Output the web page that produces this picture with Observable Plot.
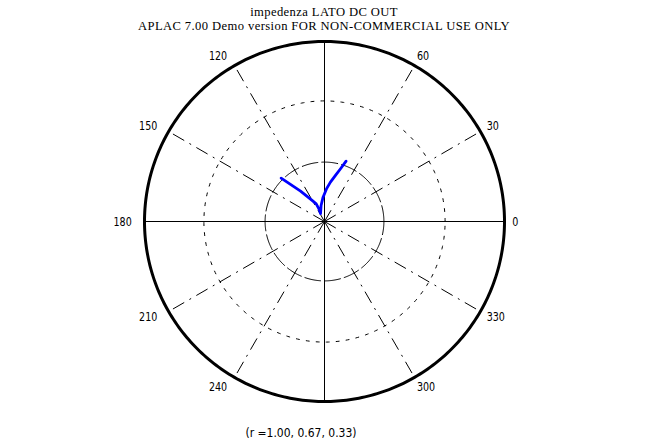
<!DOCTYPE html>
<html>
<head>
<meta charset="utf-8">
<script src="https://cdn.jsdelivr.net/npm/d3@7"></script>
<script src="https://cdn.jsdelivr.net/npm/@observablehq/plot@0.6"></script>
<style>
  html, body { margin: 0; padding: 0; background: #fff; }
  body { width: 648px; height: 448px; position: relative; overflow: hidden; }
  #title { position: absolute; left: 0; top: 4.5px; width: 648px; text-align: center;
           font-family: "Liberation Serif", "Times New Roman", serif; font-size: 12.6px; letter-spacing: 0.4px;
           line-height: 14px; color: #000; }
  #title div { white-space: nowrap; }
  #chart { position: absolute; left: 0; top: 34px; }
  #caption { position: absolute; left: 201px; width: 200px; top: 427px; text-align: center;
             font-family: "DejaVu Sans Condensed", sans-serif; font-size: 12px;
             line-height: 13px; color: #000; }
</style>
</head>
<body>
<div id="title"><div>impedenza LATO DC OUT</div><div>APLAC 7.00 Demo version FOR NON-COMMERCIAL USE ONLY</div></div>
<div id="chart"></div>
<div id="caption">(r =1.00, 0.67, 0.33)</div>
<script>
// ---- data ----
const gridRadii = [1.00, 0.67, 0.33];
const axisAngles = [0, 90, 180, 270];
const spokeAngles = [30, 60, 120, 150, 210, 240, 300, 330];
const labelAngles = [0, 30, 60, 120, 150, 180, 210, 240, 300, 330];
const labelTexts = ["0", "30", "60", "120", "150", "180", "210", "240", "300", "330"];
// impedance trace, normalized (real, imaginary)
const traceRe = [-0.241, -0.189, -0.133, -0.069, -0.046, -0.031, -0.022, -0.019, -0.008, 0.011, 0.033, 0.061, 0.089, 0.120];
const traceIm = [0.241, 0.206, 0.169, 0.117, 0.098, 0.070, 0.044, 0.089, 0.135, 0.181, 0.219, 0.256, 0.293, 0.335];

// ---- derived tables ----
const rad = d => d * Math.PI / 180;
const circle = r => d3.range(0, 361, 1).map(a => ({x: r * Math.cos(rad(a)), y: r * Math.sin(rad(a))}));
const rays = angs => angs.map(a => ({x1: 0, y1: 0, x2: Math.cos(rad(a)), y2: Math.sin(rad(a))}));
const labelR = 1.06;
const labels = labelAngles.map((a, i) => ({
  x: labelR * Math.cos(rad(a)), y: labelR * Math.sin(rad(a)), text: labelTexts[i], left: Math.cos(rad(a)) < -0.01
}));
const trace = traceRe.map((re, i) => ({re, im: traceIm[i]}));

const W = 648, H = 380, R = 180, cx = 324, cy = 187;
const labelFont = "DejaVu Sans Condensed, sans-serif";
const chart = Plot.plot({
  width: W, height: H,
  margin: 0,
  x: {domain: [-cx / R, (W - cx) / R], axis: null},
  y: {domain: [-(H - cy) / R, cy / R], axis: null},
  style: {background: "#fff", overflow: "visible"},
  marks: [
    Plot.line(circle(gridRadii[2]), {x: "x", y: "y", stroke: "#000", strokeWidth: 1, strokeDasharray: "16,4"}),
    Plot.line(circle(gridRadii[1]), {x: "x", y: "y", stroke: "#000", strokeWidth: 1, strokeDasharray: "3,7"}),
    Plot.link(rays(spokeAngles), {x1: "x1", y1: "y1", x2: "x2", y2: "y2", stroke: "#000", strokeWidth: 1, strokeDasharray: "13,6,2,6"}),
    Plot.link(rays(axisAngles), {x1: "x1", y1: "y1", x2: "x2", y2: "y2", stroke: "#000", strokeWidth: 1}),
    Plot.line(circle(gridRadii[0]), {x: "x", y: "y", stroke: "#000", strokeWidth: 3}),
    Plot.text(labels.filter(d => !d.left), {x: "x", y: "y", text: "text", textAnchor: "start", dx: -3,
      fontFamily: labelFont, fontSize: 12.5, fill: "#000", className: "alabel"}),
    Plot.text(labels.filter(d => d.left), {x: "x", y: "y", text: "text", textAnchor: "end", dx: -2,
      fontFamily: labelFont, fontSize: 12.5, fill: "#000", className: "alabel"}),
    Plot.line(trace, {x: "re", y: "im", stroke: "#0000ff", strokeWidth: 2.8, curve: "linear"})
  ]
});
document.getElementById("chart").appendChild(chart);
// narrow the angle labels a little, like the original's condensed bitmap font
d3.select(chart).selectAll(".alabel text").each(function() {
  const w = this.getComputedTextLength();
  if (w > 0) {
    this.setAttribute("textLength", (w * 0.85).toFixed(1));
    this.setAttribute("lengthAdjust", "spacingAndGlyphs");
  }
});
</script>
</body>
</html>
